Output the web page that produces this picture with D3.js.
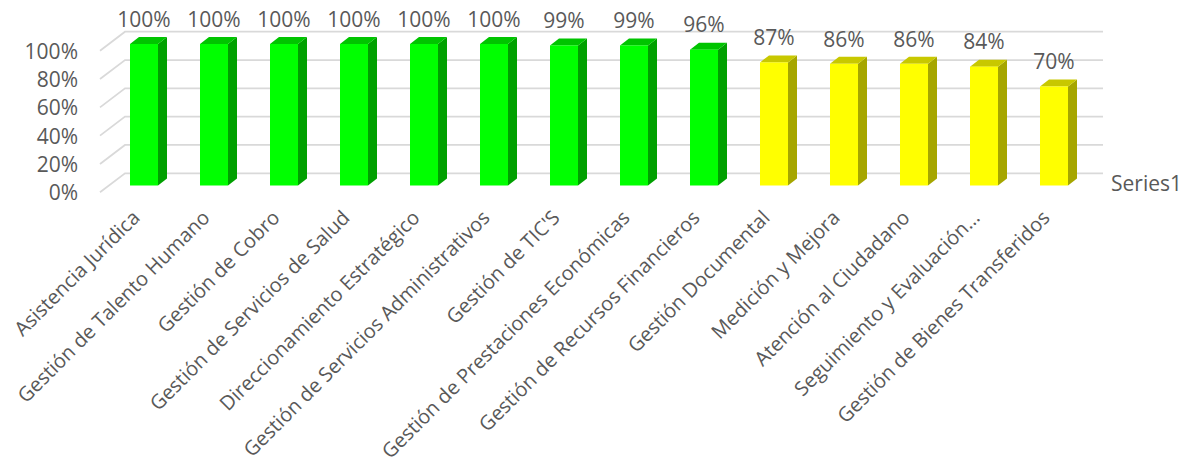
<!DOCTYPE html>
<html>
<head>
<meta charset="utf-8">
<script src="https://cdn.jsdelivr.net/npm/d3@7"></script>
<style>
  body { margin: 0; background: #fff; }
  text { font-family: 'Open Sans', sans-serif; fill: #595959; }
</style>
</head>
<body>
<div id="chart"></div>
<script>
const categories = [
  'Asistencia Jurídica',
  'Gestión de Talento Humano',
  'Gestión de Cobro',
  'Gestión de Servicios de Salud',
  'Direccionamiento Estratégico',
  'Gestión de Servicios Administrativos',
  "Gestión de TIC'S",
  'Gestión de Prestaciones Económicas',
  'Gestión de Recursos Financieros',
  'Gestión Documental',
  'Medición y Mejora',
  'Atención al Ciudadano',
  'Seguimiento y Evaluación…',
  'Gestión de Bienes Transferidos'
];
const values = [1.00, 1.00, 1.00, 1.00, 1.00, 1.00, 0.99, 0.99, 0.96, 0.87, 0.86, 0.86, 0.84, 0.70];
const yTicks = [0, 0.2, 0.4, 0.6, 0.8, 1.0];
const seriesName = 'Series1';

const width = 1194, height = 472;
const fontSize = 21;
const catFontSize = 20;
// 3D look: wall depth and bar depth offsets
const wall = { dx: 25, dy: -19 };
const depth = { dx: 9, dy: -7 };
const pct = d3.format('.0%');

const svg = d3.select('#chart').append('svg')
    .attr('width', width)
    .attr('height', height);

const x = d3.scaleBand()
    .domain(categories)
    .range([95, 1103])
    .paddingInner(0.6)
    .paddingOuter(0.5);

// back wall scale and bar scale
const yBack = d3.scaleLinear().domain([0, 1]).range([173.3, 31.7]);
const yBar = d3.scaleLinear().domain([0, 1]).range([185.5, 44]);

const wallLeft = 125, wallRight = 1103;

// gridlines: back wall + left side wall
const grid = svg.append('g')
    .attr('stroke', '#d9d9d9')
    .attr('stroke-width', 1.75)
    .attr('fill', 'none');
grid.selectAll('polyline').data(yTicks)
    .enter()
    .append('polyline')
    .attr('points', d => [
        [wallLeft - wall.dx, yBack(d) - wall.dy],
        [wallLeft, yBack(d)],
        [wallRight, yBack(d)]
    ].map(p => p.join(',')).join(' '));

// y axis labels, on front edge of side wall
svg.append('g')
    .selectAll('text').data(yTicks)
    .enter()
    .append('text')
    .attr('x', 78)
    .attr('y', d => yBack(d) - wall.dy)
    .attr('text-anchor', 'end')
    .attr('dominant-baseline', 'central')
    .style('font-size', fontSize + 'px')
    .text(d => pct(d));

const isGood = v => v >= 0.9;
const palette = {
    good: { front: '#00ff00', side: '#00a000', top: '#00c400' },
    warn: { front: '#ffff00', side: '#a6a600', top: '#c8c800' }
};
const bw = x.bandwidth();

const bars = svg.append('g')
    .selectAll('g').data(values)
    .enter()
    .append('g');

bars.append('polygon')
    .attr('fill', d => palette[isGood(d) ? 'good' : 'warn'].side)
    .attr('points', (d, i) => {
        const x0 = x(categories[i]) + bw, yt = yBar(d), yb = yBar(0);
        return [[x0, yt], [x0 + depth.dx, yt + depth.dy], [x0 + depth.dx, yb + depth.dy], [x0, yb]]
            .map(p => p.join(',')).join(' ');
    });

bars.append('polygon')
    .attr('fill', d => palette[isGood(d) ? 'good' : 'warn'].top)
    .attr('points', (d, i) => {
        const x0 = x(categories[i]), yt = yBar(d);
        return [[x0, yt], [x0 + depth.dx, yt + depth.dy], [x0 + bw + depth.dx, yt + depth.dy], [x0 + bw, yt]]
            .map(p => p.join(',')).join(' ');
    });

bars.append('rect')
    .attr('fill', d => palette[isGood(d) ? 'good' : 'warn'].front)
    .attr('x', (d, i) => x(categories[i]))
    .attr('y', d => yBar(d))
    .attr('width', bw)
    .attr('height', d => yBar(0) - yBar(d));

// value labels
svg.append('g')
    .selectAll('text').data(values)
    .enter()
    .append('text')
    .attr('x', (d, i) => x(categories[i]) + bw / 2)
    .attr('y', d => yBar(d) - 17.3)
    .attr('text-anchor', 'middle')
    .style('font-size', fontSize + 'px')
    .text(d => pct(d));

// category labels, rotated
svg.append('g')
    .selectAll('text').data(categories)
    .enter()
    .append('text')
    .attr('transform', d => `translate(${x(d) + bw / 2 - 3},219) rotate(-45)`)
    .attr('text-anchor', 'end')
    .style('font-size', catFontSize + 'px')
    .text(d => d);

// series label at the right
svg.append('text')
    .attr('x', 1111)
    .attr('y', 183)
    .attr('dominant-baseline', 'central')
    .style('font-size', fontSize + 'px')
    .text(seriesName);
</script>
</body>
</html>
